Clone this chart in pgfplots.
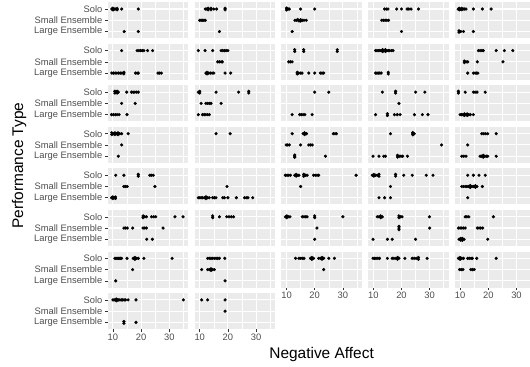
\documentclass[border=0pt]{standalone}
\usepackage{pgfplots}
\pgfplotsset{compat=1.18}
\usepackage{fontspec}
\setmainfont{Liberation Sans}

\definecolor{panelbg}{HTML}{EBEBEB}
\definecolor{labgray}{HTML}{4D4D4D}
\definecolor{tickgray}{HTML}{333333}

% y levels: 3 = Solo, 2 = Small Ensemble, 1 = Large Ensemble
\pgfplotsset{
  panel/.style={
    scale only axis, width=80.6bp, height=36bp, anchor=north west,
    xmin=8.15, xmax=36.75, ymin=0.4, ymax=3.6,
    axis background/.style={fill=panelbg},
    axis line style={draw=none},
    xtick={10,20,30}, minor xtick={15,25,35}, ytick={1,2,3},
    xmajorgrids, xminorgrids, ymajorgrids,
    major grid style={white, line width=1.1bp},
    minor grid style={white, line width=0.55bp},
    xticklabels={}, yticklabels={},
    xtick pos=lower, ytick pos=lower,
    tick align=outside, major tick length=2.9bp, minor tick length=0pt,
    tick style={draw=none},
    tick label style={font=\fontsize{9.4}{10}\selectfont, text=labgray},
    xticklabel style={inner sep=0pt, yshift=-1.3bp},
    yticklabel style={inner sep=0pt, xshift=-2.3bp},
  },
  ylab/.style={yticklabels={Large Ensemble,Small Ensemble,Solo},
    ytick style={draw=tickgray, line width=0.55bp}},
  xlab/.style={xticklabels={10,20,30},
    xtick style={draw=tickgray, line width=0.55bp}},
  pt/.style={only marks, mark=*, mark size=1.4bp, black, mark options={draw=black, fill=black}},
}

\newcommand{\panel}[4]{%
  \begin{axis}[panel, at={(#1bp,#2bp)}, #3]
    \addplot[pt] coordinates {#4};
  \end{axis}}

\begin{document}
\begin{tikzpicture}
\useasboundingbox (0,0) rectangle (530bp,367bp);
\clip (0,0) rectangle (530bp,367bp);

% row 1
\panel{107.7}{364.7}{ylab}{(9.6,3)(10,3.08)(10,2.92)(10.5,3)(11,3)(11.5,3.06)(11.5,2.94)(13.1,3)(19,3)(14,1)(19,1)}
\panel{194.5}{364.7}{}{(12,3)(12.5,3)(13,3.07)(13,2.93)(14,3.06)(14,2.94)(15,3)(16,3)(19,3.07)(19,2.93)(10,2)(10.5,2)(11,2)(11.5,2)(12,2)(17,1)}
\panel{281.3}{364.7}{}{(10,3.08)(10,2.92)(10.3,3)(10.6,3)(11,3)(15,3)(20,3)(13,2)(13.6,2)(14,2.06)(14.4,1.94)(15,2.06)(15,1.94)(15.6,2)(16.2,2)(17,2)(12,1)}
\panel{368.1}{364.7}{}{(14,3)(14.6,3)(15.2,3)(18.3,3)(20,3)(22,3)(22.6,3)(23.4,3)(26,3)(13,2)(13.6,2)(14.2,2)(14.8,2)(15.4,2)(20,1)}
\panel{454.9}{364.7}{}{(9.3,3)(9.7,3.07)(9.7,2.93)(10.2,3)(10.6,3.06)(10.6,2.94)(11.1,3)(11.6,3)(12.1,3)(14.7,3)(17.9,3)(21,3)(9.6,1.06)(9.6,0.94)(10.2,1)(11.2,1)(14.7,1)}

% row 2
\panel{107.7}{323.15}{ylab}{(13.1,3)(18.6,3)(19.2,3)(19.8,3)(20.4,3)(21,3)(22.3,3)(24.1,3)(9.6,1)(10.2,1)(10.8,1)(11.4,1)(12,1)(12.6,1)(13.2,1)(13.9,1.07)(13.9,0.93)(18,1)(18.6,1)(19,1)(26,1)(26.6,1)(27.2,1)}
\panel{194.5}{323.15}{}{(9.5,3)(11.9,3)(14.6,3)(17.6,3)(18.2,3)(18.8,3)(19.4,3)(20,3)(16.4,2)(17,2)(17.6,2)(18,2)(12.2,1)(12.6,1.07)(12.6,0.93)(13.2,1)(13.8,1)(14.4,1)(15,1)(19,1)(21,1)}
\panel{281.3}{323.15}{}{(12.9,3.08)(12.9,2.92)(16.1,3.08)(16.1,2.92)(28,3.08)(28,2.92)(10.8,2)(11.4,2)(12,2)(13.8,1.07)(13.8,0.93)(14.3,1)(14.9,1)(15.5,1)(17.9,1)(20,1)(22,1)(22.6,1)(23.2,1)}
\panel{368.1}{323.15}{}{(10.8,3)(11.3,3)(11.8,3)(12.3,3)(12.8,3)(13.3,3.08)(13.3,2.92)(13.8,3)(14.3,3.08)(14.3,2.92)(14.8,3)(15.3,3)(15.8,3)(16.4,3)(17,3)(10.8,1)(11.3,1)(11.8,1)(12.3,1)(12.8,1)(15.3,1.08)(15.3,0.92)}
\panel{454.9}{323.15}{}{(16.5,3)(17.1,3)(17.7,3)(18.2,3)(22.8,3)(25.7,3)(28.7,3)(11.5,2.07)(11.5,1.93)(12.1,2)(12.7,2)(16.1,2)(25.2,2)(12.7,1)(14.7,1)(15.3,1)(15.9,1)(16.3,1)}

% row 3
\panel{107.7}{281.6}{ylab}{(10.7,3.08)(10.7,2.92)(11.1,3)(11.5,3.08)(11.5,2.92)(11.9,3)(14.9,3)(16.6,3)(17.2,3)(17.8,3)(18.4,3)(19,3)(13.1,2)(17.9,2)(9.5,1)(10.2,1)(10.9,1)(11.5,1)(12.2,1)(15,1)}
\panel{194.5}{281.6}{}{(9.5,3)(10,3.08)(10,2.92)(15.8,3)(23.8,3)(27.4,3.08)(27.4,2.92)(10.5,2)(12.2,2)(12.8,2)(13.4,2)(14,2)(17.6,2)(9.5,1)(11,1)(11.6,1)(12.2,1)(12.8,1)(13.4,1)}
\panel{281.3}{281.6}{}{(20,3)(25,3)(12,1)(14.7,1)(15.3,1)(15.9,1)(16.5,1)(19.1,1)}
\panel{368.1}{281.6}{}{(13.2,3)(17.9,3.08)(17.9,2.92)(25,3)(28.3,3)(19.1,2)(10.8,1)(15,1.08)(15,0.92)(17.5,1)(18.5,1)(19.5,1)(24.6,1)(27.4,1)(29.4,1)}
\panel{454.9}{281.6}{}{(9.4,3.08)(9.4,2.92)(11.8,3)(14.7,3)(15.3,3)(16,3)(18.9,3)(10,1)(10.5,1)(11,1)(11.5,1.07)(11.5,0.93)(12,1)(12.5,1.07)(12.5,0.93)(13,1)(13.6,1)(14.7,1)}

% row 4
\panel{107.7}{240.05}{ylab}{(9.6,3.08)(9.6,2.92)(10.2,3)(10.7,3.08)(10.7,2.92)(11.3,3)(11.8,3.08)(11.8,2.92)(12.4,3)(13.1,3)(15.4,3)(13.1,2)(11.9,1)}
\panel{194.5}{240.05}{}{(15.8,3)(20.8,3)}
\panel{281.3}{240.05}{}{(12,3)(15.9,3)(16.4,3.08)(16.4,2.92)(17.1,3)(26.6,3)(27.2,3)(27.7,3)(9.9,2)(10.4,2)(11,2)(15,2)(17.9,2)(18.5,2)(19.1,2)(12.9,1.1)(12.9,1)(12.9,0.9)(23.8,1)}
\panel{368.1}{240.05}{}{(16.1,3)(24,3.1)(24,3)(24,2.9)(24.5,3)(34.2,2)(9.9,1)(12,1)(13.7,1)(14.3,1)(18.6,1.08)(18.6,0.92)(19.2,1)(19.8,1)(20.4,1)(22.1,1)}
\panel{454.9}{240.05}{}{(17.7,3)(18.4,3)(19.1,3)(19.8,3)(22.8,3)(12.7,2)(10.6,1)(11.3,1)(12.1,1)(17.1,1)(17.6,1)(18.2,1.08)(18.2,0.92)(18.8,1)(19.4,1)(19.8,1)(22.8,1)}

% row 5
\panel{107.7}{198.5}{ylab}{(11,3)(13.9,3)(19,3.08)(19,2.92)(23.1,3)(23.7,3)(24.3,3)(13.9,2)(14.5,2)(15.1,2)(24.9,2)(9.5,1)(10,1.08)(10,0.92)(10.5,1)(10.9,1.06)(10.9,0.94)}
\panel{194.5}{198.5}{}{(19.7,2)(9.5,1)(10,1)(10.5,1)(11,1)(11.6,1)(12.2,1.08)(12.2,0.92)(12.8,1)(13.4,1)(14.6,1)(15.2,1)(15.8,1)(18.2,1)(18.8,1)(20,1)(23,1)(25.9,1)(26.5,1)(27.1,1)(28.8,1)}
\panel{281.3}{198.5}{}{(9.6,3)(10.2,3)(10.8,3)(11.4,3)(12.9,3)(13.4,3.08)(13.4,2.92)(14,3)(14.4,3)(16.1,3.08)(16.1,2.92)(16.7,3)(17.3,3)(19.6,3)(20.2,3)(20.8,3)(21.4,3)(34.7,3)(15,2)}
\panel{368.1}{198.5}{}{(9.6,3)(10.2,3.08)(10.2,2.92)(10.8,3)(11.4,3)(12,3.08)(12,2.92)(17.9,3.08)(17.9,2.92)(20.8,3)(23.8,3)(28.8,3)(31.2,3)(16.1,2)(12,1)(14,1)(16.1,1)}
\panel{454.9}{198.5}{}{(12.7,3)(14.7,3)(16.7,3)(18.9,3)(10.6,2)(11.2,2)(11.8,2)(12.4,2)(13,2)(13.6,2.08)(13.6,1.92)(14.2,2)(14.8,2)(15.4,2.08)(15.4,1.92)(16,2)(17.9,2)(12.7,1)}

% row 6
\panel{107.7}{156.95}{ylab}{(20.7,3.08)(20.7,2.92)(21.3,3)(21.9,3)(23.7,3)(24.5,3)(25.2,3)(32,3)(34.9,3)(13.9,2)(14.5,2)(15.1,2)(17,2)(20.7,2)(21.3,2)(21.9,2)(27.8,2)(22,1)(24,1)}
\panel{194.5}{156.95}{}{(14.6,3.08)(14.6,2.92)(17,3)(19.6,3)(20.4,3)(21.2,3)(22,3)}
\panel{281.3}{156.95}{}{(9.6,3)(10.1,3.08)(10.1,2.92)(10.6,3)(11.2,3)(15.6,3)(16.2,3)(16.8,3)(17.3,3)(20,3.08)(20,2.92)(30,3)(20.8,2)(20,1)}
\panel{368.1}{156.95}{}{(11.4,3)(12,3)(12.6,3.08)(12.6,2.92)(13.2,3)(19.1,3.08)(19.1,2.92)(19.7,3)(20.2,3)(29.9,3)(19.1,2.15)(19.1,2)(19.1,1.85)(30,2)(9.9,1)(15,1)(16.7,1)(25,1)}
\panel{454.9}{156.95}{}{(11.8,3)(12.4,3)(13.1,3)(21.8,3)(9.4,2)(10,2)(10.6,2)(11.2,2)(11.8,2)(16.1,2)(16.7,2)(17.3,2)(18,2)(9.6,1)(10.2,1.08)(10.2,0.92)(10.8,1.08)(10.8,0.92)(11.4,1)(19.8,1)}

% row 7
\panel{107.7}{115.4}{ylab}{(10.7,3)(11.1,3)(11.5,3)(11.9,3)(12.3,3)(12.7,3)(13.1,3)(15,3)(17.2,3)(17.8,3.08)(17.8,2.92)(18.4,3)(19,3)(21,3)(31,3)(17,2)(11,1)}
\panel{194.5}{115.4}{}{(12.8,3)(13.4,3)(14,3)(14.6,3)(15.2,3)(15.8,3)(16.4,3)(17,3)(18.9,3)(10.7,2)(12.8,2)(13.4,2)(14,2.08)(14,1.92)(14.6,2)(15.2,2)(19,1)}
\panel{281.3}{115.4}{xlab}{(13.2,3)(14.4,3)(15,3)(15.6,3)(16.2,3)(18.5,3)(19,3.08)(19,2.92)(19.6,3)(21.4,3)(22,3)(22.6,3.08)(22.6,2.92)(23.2,3)(25,3)(27,3)(23.2,2)}
\panel{368.1}{115.4}{xlab}{(9.9,3)(10.5,3)(11,3)(11.6,3)(12.2,3)(15,3)(16.7,3)(17.3,3)(18,3)(18.6,3.08)(18.6,2.92)(19.1,3)(21.2,3)(23.8,3)(24.5,3)(25.2,3)(26,3.08)(26,2.92)(29.1,3)}
\panel{454.9}{115.4}{xlab}{(9.4,3)(10,3.08)(10,2.92)(10.6,3)(11.2,3)(12.7,3)(13.3,3)(13.9,3)(14.3,3)(15.9,3)(22.8,3)(9.8,2)(10.4,2)(11,2)(13.8,2)(14.4,2)(15,2)}

% row 8
\panel{107.7}{73.85}{ylab,xlab}{(10,3)(10.4,3)(10.8,3)(11.2,3.08)(11.2,2.92)(11.6,3)(12,3)(12.5,3)(13,3)(13.5,3)(14,3)(14.5,3)(15.4,3)(18.2,3)(35,3)(13.9,1.08)(13.9,0.92)(18.2,1)}
\panel{194.5}{73.85}{xlab}{(10.7,3)(12.8,3)(19,3)(19,2)}

% axis titles
\node[anchor=base, font=\fontsize{15.5}{17}\selectfont] at (321.6bp,8.7bp) {Negative Affect};
\node[anchor=base, rotate=90, font=\fontsize{15.5}{17}\selectfont] at (23bp,201.3bp) {Performance Type};
\end{tikzpicture}
\end{document}
